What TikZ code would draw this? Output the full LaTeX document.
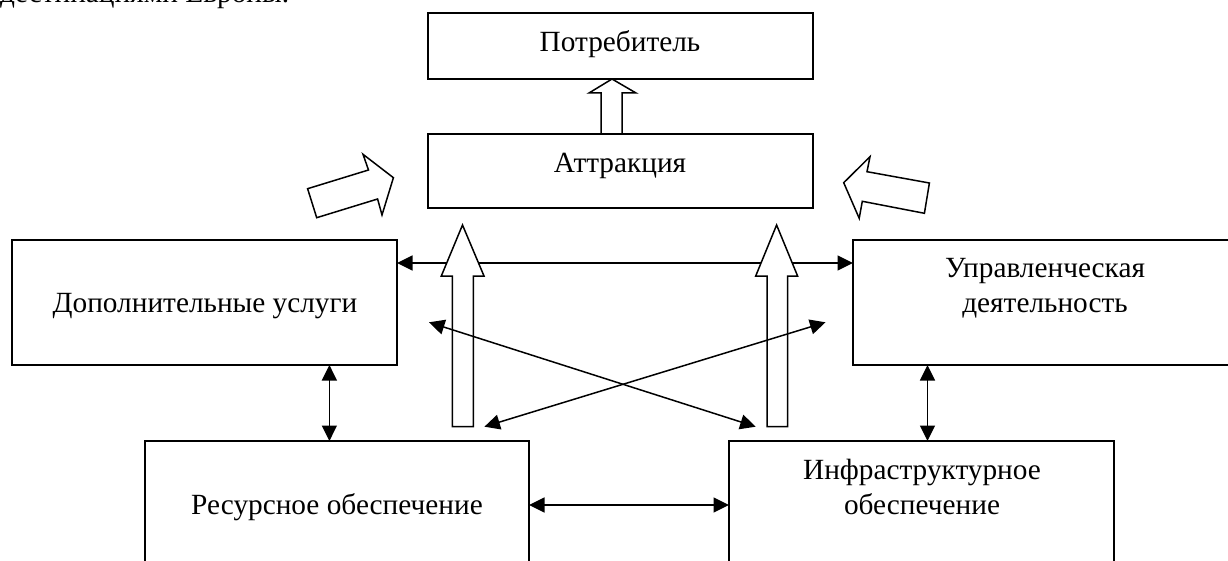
\documentclass[tikz,border=0pt]{standalone}
\usepackage{fontspec}
\setmainfont{Liberation Serif}
\usetikzlibrary{arrows.meta}
\tikzset{
  x=1pt,y=-1pt,
  box/.style={draw=black,line width=1.6pt,fill=white,rectangle,inner sep=0pt,outer sep=0pt,anchor=north west},
  boxtext/.style={font=\fontsize{29.3}{35}\selectfont,align=center,inner sep=0pt,text=black,anchor=base},
  bigarrow/.style={draw=black,line width=1.5pt,fill=white,miter limit=10},
  link/.style={draw=black,line width=1.5pt,{Triangle[length=15.5pt,width=15pt]}-{Triangle[length=15.5pt,width=15pt]},shorten <=0pt,shorten >=0pt},
}
\begin{document}
\begin{tikzpicture}
\useasboundingbox (0,0) rectangle (1228,561);
\clip (0,0) rectangle (1228,561);
\fill[white] (0,0) rectangle (1228,561);
\node[boxtext,anchor=base west] (head) at (0,3) {дестинациями Европы.};
% boxes
\node[box,minimum width=385pt,minimum height=66pt] (potr) at (428,13) {};
\node[box,minimum width=385pt,minimum height=74pt] (attr) at (428,134) {};
\node[box,minimum width=385pt,minimum height=125pt] (dop) at (12,240) {};
\node[box,minimum width=400pt,minimum height=125pt] (upr) at (853,240) {};
\node[box,minimum width=384pt,minimum height=140pt] (res) at (145,441) {};
\node[box,minimum width=385pt,minimum height=140pt] (infr) at (729,441) {};
% labels
\node[boxtext] (tpotr) at (620,52) {Потребитель};
\node[boxtext] (tattr) at (620,173) {Аттракция};
\node[boxtext] (tdop) at (205,312) {Дополнительные услуги};
\node[boxtext] (tupr) at (1045,312) {Управленческая\\деятельность};
\node[boxtext] (tres) at (337,514) {Ресурсное обеспечение};
\node[boxtext] (tinfr) at (922,514) {Инфраструктурное\\обеспечение};
% long horizontal link, behind block arrows
\coordinate (hl) at (dop.east |- 0,263);
\coordinate (hr) at (upr.west |- 0,263);
\draw[link] (hl) -- (hr);
% block arrows
\draw[bigarrow] (612,79) -- (636,93) -- (622,93) -- (622,134) -- (601,134) -- (601,93) -- (589,93) -- cycle;
\draw[bigarrow] (393.4,177.7) -- (382,215) -- (377.6,199) -- (316.7,217.7) -- (307.6,188.7) -- (368.5,170) -- (363,154.3) -- cycle;
\draw[bigarrow] (843.7,182.7) -- (870,156.7) -- (867,171.7) -- (929.4,183) -- (924.4,213.3) -- (862.3,201.3) -- (859.2,218.3) -- cycle;
\draw[bigarrow] (462.5,225) -- (484,276) -- (473.3,276) -- (473.3,426.7) -- (452.4,426.7) -- (452.4,276) -- (441.3,276) -- cycle;
\draw[bigarrow] (776.6,225) -- (797.6,276) -- (787.5,276) -- (787.5,426.7) -- (767,426.7) -- (767,276) -- (755.7,276) -- cycle;
% free ends of the diagonals
\coordinate (d1a) at (429,322.3);
\coordinate (d1b) at (755.7,426.7);
\coordinate (d2a) at (484.4,426.7);
\coordinate (d2b) at (825.5,322.3);
\draw[link] (d1a) -- (d1b);
\draw[link] (d2a) -- (d2b);
% short links
\draw[link] (dop.south -| 329.4,0) -- (res.north -| 329.4,0);
\draw[link] (upr.south -| 927.5,0) -- (infr.north -| 927.5,0);
\draw[link] (res.east |- 0,505) -- (infr.west |- 0,505);
\end{tikzpicture}
\end{document}
